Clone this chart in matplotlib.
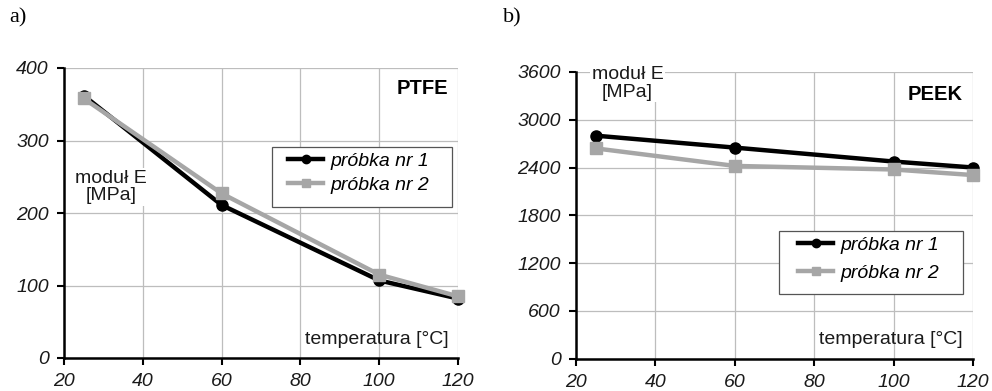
import matplotlib.pyplot as plt
from matplotlib.patches import Rectangle

# temperatura [°C]
temp = [25, 60, 100, 120]

# moduł E [MPa]
ptfe_p1 = [362, 211, 107, 82]
ptfe_p2 = [358, 227, 115, 85]
peek_p1 = [2800, 2650, 2475, 2400]
peek_p2 = [2640, 2420, 2375, 2305]

labels = ['próbka nr 1', 'próbka nr 2']
xticks = [20, 40, 60, 80, 100, 120]

plt.rcParams['font.family'] = ['Liberation Sans', 'DejaVu Sans']

W, H = 992, 391
fig = plt.figure(figsize=(W/100, H/100), dpi=100)
TXT = '#1a1a1a'


def panel(rect, s1, s2, yticks, name, name_xy, mod_xy, leg_box, leg_anchor, lspace,
          letter, letter_x):
    l, r, t, b = rect
    ax = fig.add_axes([l/W, (H-b)/H, (r-l)/W, (b-t)/H])
    ax.plot(temp, s1, color='black', lw=3.2, marker='o', ms=8,
            label=labels[0], zorder=3, clip_on=False)
    ax.plot(temp, s2, color='#a6a6a6', lw=3.2, marker='s', ms=8,
            label=labels[1], zorder=4, clip_on=False)
    ax.set_xlim(20, 120)
    ax.set_ylim(yticks[0], yticks[-1])
    ax.set_xticks(xticks)
    ax.set_yticks(yticks)
    ax.grid(True, color='#bdbdbd', lw=0.9)
    ax.set_axisbelow(True)
    for s in ['top', 'right']:
        ax.spines[s].set_visible(False)
    for s in ['left', 'bottom']:
        ax.spines[s].set_linewidth(1.8)
    ax.tick_params(direction='out', length=5, width=1.5, labelsize=14,
                   colors='black', labelcolor=TXT, pad=6)
    for lab in ax.get_xticklabels() + ax.get_yticklabels():
        lab.set_fontstyle('italic')

    ax.text(0.975, 0.035, 'temperatura [°C]', transform=ax.transAxes,
            ha='right', va='bottom', fontsize=14, color=TXT)
    ax.text(*name_xy, name, transform=ax.transAxes, ha='right', va='center',
            fontsize=14.5, fontweight='bold', color='black')
    ax.text(*mod_xy, 'moduł E\n[MPa]', transform=ax.transAxes, ha='center',
            va='center', fontsize=14, color=TXT, linespacing=1.05,
            bbox=dict(facecolor='white', edgecolor='none', pad=1), zorder=5)

    # legend frame drawn separately so padding can be set exactly
    def to_ax(px, py):
        return (px - l) / (r - l), (b - py) / (b - t)
    ll, lr, lt, lb = leg_box
    x0, y0 = to_ax(ll, lb)
    x1, y1 = to_ax(lr, lt)
    ax.add_patch(Rectangle((x0, y0), x1 - x0, y1 - y0, transform=ax.transAxes,
                           facecolor='white', edgecolor='#555555', lw=0.9,
                           zorder=6, clip_on=False))
    leg = ax.legend(loc='upper left', bbox_to_anchor=to_ax(*leg_anchor),
                    prop={'style': 'italic', 'size': 14}, frameon=False,
                    handlelength=1.8, labelspacing=lspace, borderpad=0,
                    handletextpad=0.4, borderaxespad=0)
    for h in leg.legend_handles:
        h.set_markersize(6)
    leg.set_zorder(7)
    fig.text(letter_x/W, 1 - 18/H, letter, ha='left', va='center',
             fontsize=16, family=['Liberation Serif', 'DejaVu Serif'])
    return ax


panel((64, 458, 68, 358), ptfe_p1, ptfe_p2, [0, 100, 200, 300, 400],
      'PTFE', (0.975, 0.93), (0.12, 0.59), (272, 452, 147, 207), (288, 152), 0.35,
      'a)', 9)
panel((576, 973, 72, 358.5), peek_p1, peek_p2, [0, 600, 1200, 1800, 2400, 3000, 3600],
      'PEEK', (0.975, 0.92), (0.13, 0.96), (779, 963, 231, 294), (798, 236), 0.55,
      'b)', 503)

fig.savefig('out.png', dpi=100)
